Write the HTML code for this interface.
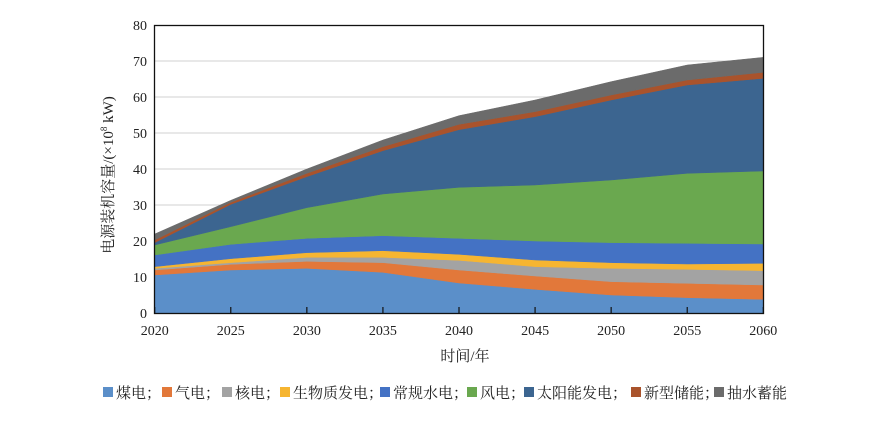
<!DOCTYPE html>
<html><head><meta charset="utf-8"><style>
body{margin:0;background:#fff;}
svg text{font-family:"Liberation Serif","Noto Serif CJK SC",serif;fill:#222;}
#legend text{font-family:"Noto Serif CJK SC",serif;}
</style></head><body>
<svg id="s" width="879" height="427" xmlns="http://www.w3.org/2000/svg">
<g id="grid"></g>
<g id="areas"></g>
<rect x="154.5" y="25.5" width="609" height="288" fill="none" stroke="#111" stroke-width="1.3"/>
<g id="ticks"></g>
<text x="465" y="361" font-size="15" text-anchor="middle">时间/年</text>
<text transform="translate(113,175) rotate(-90)" font-size="15" text-anchor="middle">电源装机容量/(×10<tspan font-size="9" dy="-6">8</tspan><tspan dy="6"> kW)</tspan></text>
<g id="legend" font-size="15"></g>
</svg>
<script>
const NS="http://www.w3.org/2000/svg";
function el(t,a,p,txt){const e=document.createElementNS(NS,t);for(const k in a)e.setAttribute(k,a[k]);if(txt!==undefined)e.textContent=txt;document.getElementById(p).appendChild(e);return e;}
const X0=154.7,X1=763.3,Y0=313,S=3.6;
for(let v=0;v<=80;v+=10){const y=Y0-v*S;if(v>0&&v<80)el('line',{x1:X0,x2:X1,y1:y,y2:y,stroke:'#d0d0d0','stroke-width':1},'grid');
el('text',{x:147,y:y+5,'font-size':14,'text-anchor':'end'},'ticks',v);}
const xs=[];for(let i=0;i<9;i++){xs.push(X0+i*(X1-X0)/8);const x=xs[i];
el('line',{x1:x,x2:x,y1:Y0,y2:Y0-6,stroke:'#111','stroke-width':1.2},'ticks');
el('text',{x:x,y:335,'font-size':14,'text-anchor':'middle'},'ticks',2020+5*i);}
const Z=[[765,750,745,740,705,675,668,660,642],[750,733,728,716,673,620,553,547,541],[745,724,712,698,655,563,470,460,447],[757,728,712,692,647,522,392,380,360],[789,750,721,703,655,502,329,313,287],[808,768,740,720,663,495,290,275,240],[825,785,745,728,668,480,240,225,185],[833,790,748,732,670,460,195,180,135],[838,795,752,730,672,453,175,157,112]];
const cols=['#5b8fc9','#e2783a','#a3a3a3','#f6b531','#4472c4','#6aa84f','#3c6590','#a9532c','#6b6b6b'];
for(let k=0;k<9;k++){let pts=[];
for(let i=0;i<9;i++)pts.push(xs[i]+','+(20+Z[i][k]/3));
for(let i=8;i>=0;i--)pts.push(xs[i]+','+(k==0?Y0:20+Z[i][k-1]/3));
el('polygon',{points:pts.join(' '),fill:cols[k],stroke:cols[k],'stroke-width':0.5},'areas');}
const names=['煤电；','气电；','核电；','生物质发电；','常规水电；','风电；','太阳能发电；','新型储能；','抽水蓄能'];
const lx=[103,162,222,280,380,467,524,631,714];
for(let k=0;k<9;k++){el('rect',{x:lx[k],y:387,width:10,height:10,fill:cols[k]},'legend');
el('text',{x:lx[k]+13,y:398},'legend',names[k]);}
</script>
</body></html>
